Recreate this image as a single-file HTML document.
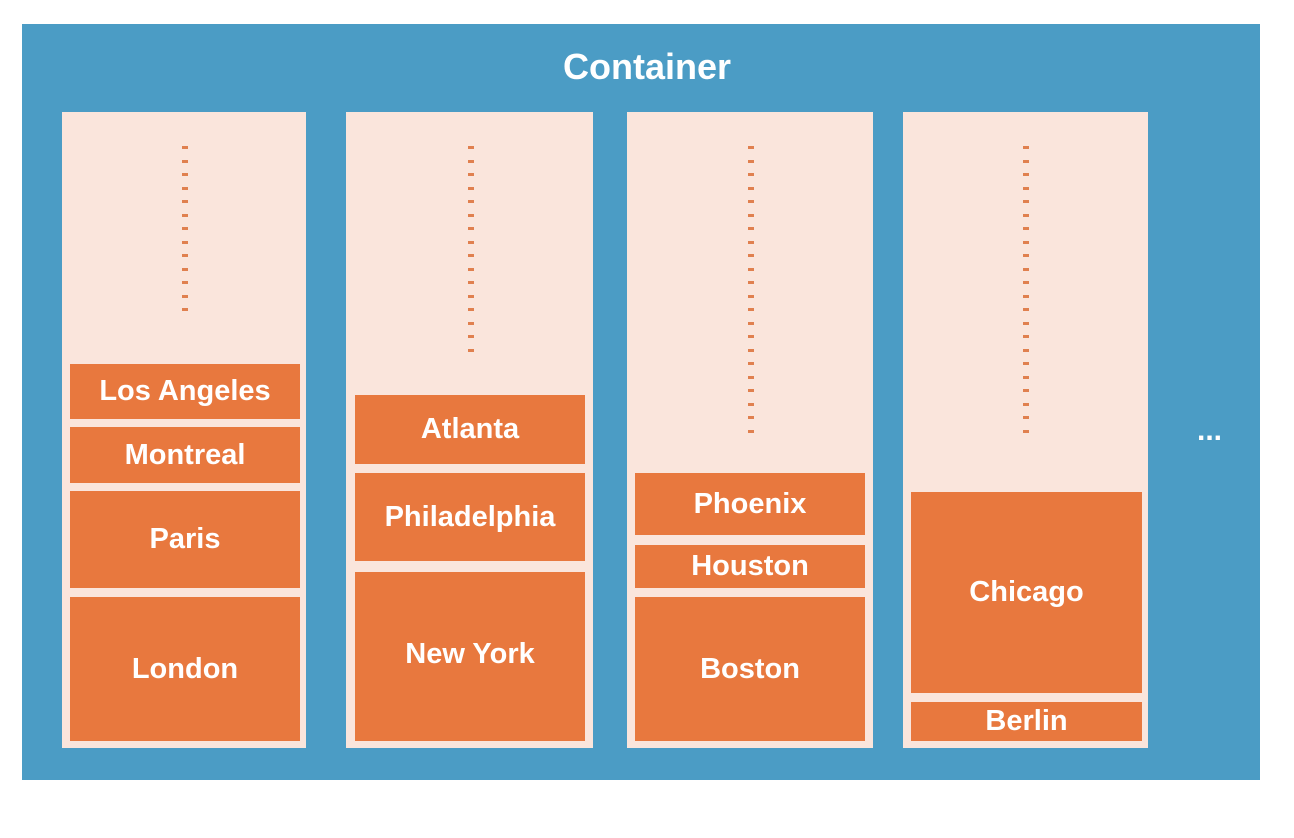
<!DOCTYPE html>
<html><head><meta charset="utf-8"><style>
body{margin:0;width:1294px;height:838px;background:#fff;position:relative;overflow:hidden;font-family:"Liberation Sans",sans-serif}
.c{position:absolute;left:22px;top:24px;width:1238px;height:756px;background:#4b9cc5}
.t{position:absolute;left:0;width:1294px;top:46px;text-align:center;color:#fff;font-weight:bold;font-size:36px}
.col{position:absolute;top:112px;height:636px;background:#fae5dc}
.b{position:absolute;background:#e8783e;color:#fff;font-weight:bold;font-size:29px;display:flex;align-items:center;justify-content:center}
.d{position:absolute;width:6px;height:3px;background:#e0804f}
.m{position:absolute;left:1197px;top:414px;color:#fff;font-weight:bold;font-size:30px}
</style></head><body>
<div class="c"></div>
<div class="t">Container</div>
<div class="col" style="left:62px;width:244px"></div>
<div class="col" style="left:346px;width:247px"></div>
<div class="col" style="left:627px;width:246px"></div>
<div class="col" style="left:903px;width:245px"></div>
<div class="b" style="left:70px;width:230px;top:364px;height:55px">Los Angeles</div>
<div class="b" style="left:70px;width:230px;top:427px;height:56px">Montreal</div>
<div class="b" style="left:70px;width:230px;top:491px;height:97px">Paris</div>
<div class="b" style="left:70px;width:230px;top:597px;height:144px">London</div>
<div class="b" style="left:355px;width:230px;top:395px;height:69px">Atlanta</div>
<div class="b" style="left:355px;width:230px;top:473px;height:88px">Philadelphia</div>
<div class="b" style="left:355px;width:230px;top:572px;height:169px;align-items:flex-start;padding-top:0"><span style="margin-top:66px">New York</span></div>
<div class="b" style="left:635px;width:230px;top:473px;height:62px">Phoenix</div>
<div class="b" style="left:635px;width:230px;top:545px;height:43px">Houston</div>
<div class="b" style="left:635px;width:230px;top:597px;height:144px">Boston</div>
<div class="b" style="left:911px;width:231px;top:492px;height:201px">Chicago</div>
<div class="b" style="left:911px;width:231px;top:702px;height:39px">Berlin</div>
<div class="m">...</div>
<script>
const cols=[[182,320],[468,360],[748,440],[1023,440]];
cols.forEach((c,i)=>{for(let y=146;y<=c[1];y+=13.5){const d=document.createElement('div');d.className='d';d.style.left=c[0]+'px';d.style.top=Math.round(y)+'px';


document.body.appendChild(d);}});
</script>
</body></html>
